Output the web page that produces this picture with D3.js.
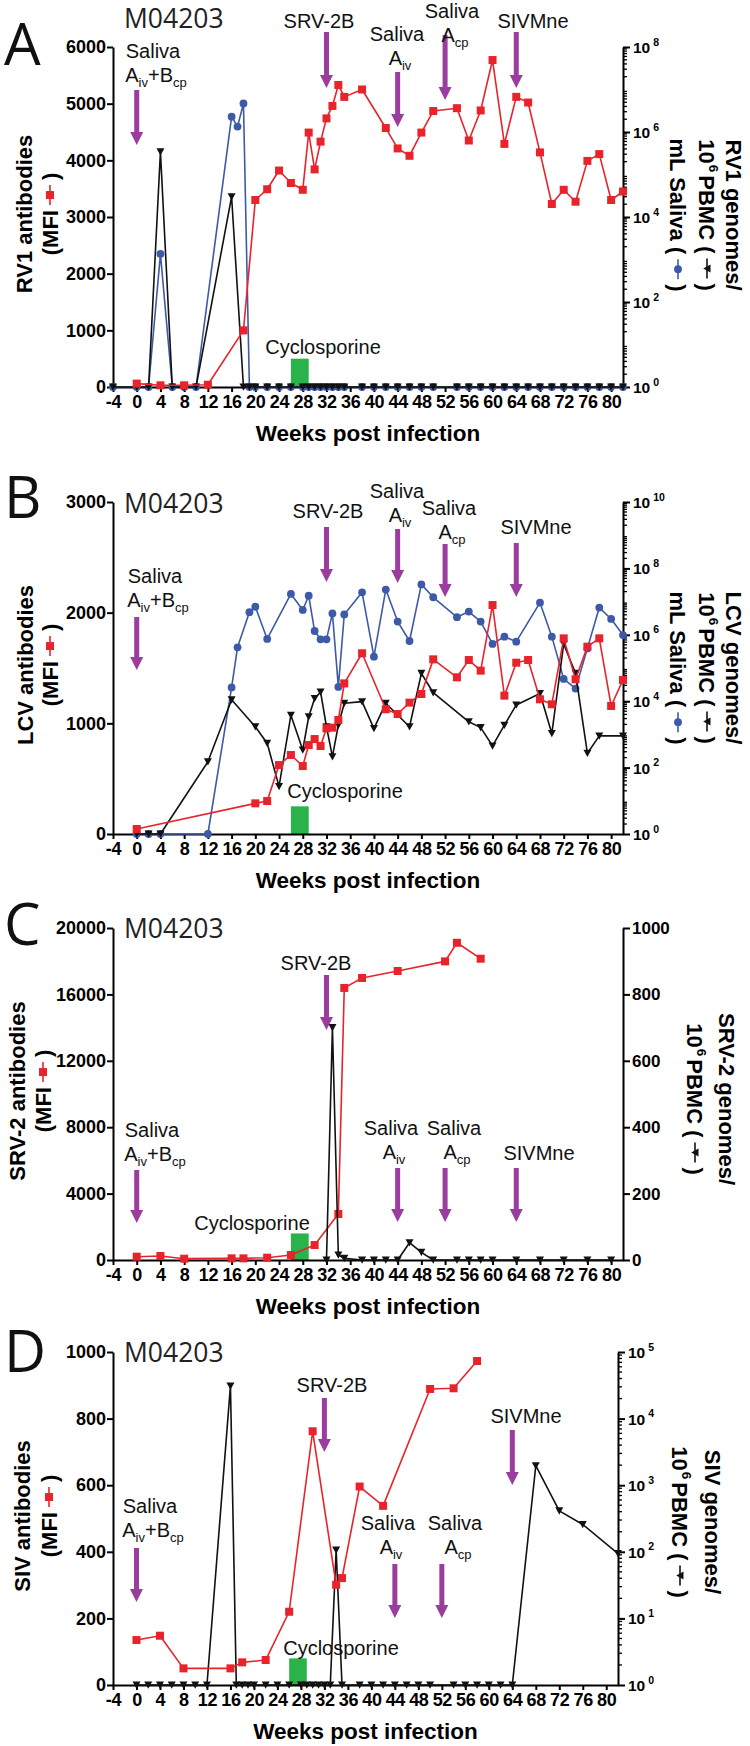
<!DOCTYPE html>
<html><head><meta charset="utf-8">
<script src="https://cdn.jsdelivr.net/npm/d3@7"></script>
<style>
body{margin:0;background:#fff;}
</style></head><body>
<script>
// ---------------- DATA ----------------
const weekDomain = [-4, 82];
const weekTicks = [-4,0,4,8,12,16,20,24,28,32,36,40,44,48,52,56,60,64,68,72,76,80];

const eventWeeks = [0, 32, 44, 52, 64];
const eventLabels = [["Saliva","A_iv+B_cp"], ["SRV-2B"], ["Saliva","A_iv"], ["Saliva","A_cp"], ["SIVMne"]];
const cyclosporineWeeks = [26, 29];
const cyclosporineLabel = "Cyclosporine";
const cycloBarMfi = [500, 250, 1600, 80];
const animalId = "M04203";

// Panel A – RV1
const rv1MfiTicks = [0,1000,2000,3000,4000,5000,6000];
const rv1GenomeExps = [0,2,4,6,8];
const rv1MfiWeeks = [0,4,8,12,18,20,22,24,26,28,29,30,31,32,33,34,35,38,42,44,46,48,50,54,56,58,60,62,64,66,68,70,72,74,76,78,80,82];
const rv1Mfi = [60,30,30,40,1000,3300,3490,3820,3600,3480,4490,3840,4330,4740,4960,5330,5120,5250,4570,4210,4080,4490,4870,4920,4350,4880,5770,4290,5120,5020,4140,3230,3480,3270,3990,4110,3300,3450];
const rv1PbmcWeeks = [-4,0,2,4,6,8,10,16,18,19,20,22,24,26,28,29,30,31,32,33,34,35,38,40,42,44,46,48,50,54,56,58,60,62,64,66,68,70,72,74,76,78,80,82];
const rv1Pbmc = [0,0,0,345000,0,0,0,30000,0,0,0,0,0,0,0,0,0,0,0,0,0,0,0,0,0,0,0,0,0,0,0,0,0,0,0,0,0,0,0,0,0,0,0,0];
const rv1SalivaWeeks = [-4,0,2,4,6,8,10,16,17,18,19,20,22,24,26,28,29,30,31,32,33,34,35,38,40,42,44,46,48,50,54,56,58,60,62,64,66,68,70,72,74,76,78,80,82];
const rv1Saliva = [0,0,0,1350,0,0,0,2300000,1340000,4700000,0,0,0,0,0,0,0,0,0,0,0,0,0,0,0,0,0,0,0,0,0,0,0,0,0,0,0,0,0,0,0,0,0,0,0];

// Panel B – LCV
const lcvMfiTicks = [0,1000,2000,3000];
const lcvGenomeExps = [0,2,4,6,8,10];
const lcvMfiWeeks = [0,20,22,24,26,28,29,30,31,32,33,34,35,38,42,44,46,48,50,54,56,58,60,62,64,66,68,70,72,74,76,78,80,82];
const lcvMfi = [45,277,298,623,714,614,804,858,795,955,961,1030,1361,1633,1127,1084,1187,1265,1578,1416,1572,1476,2069,1250,1548,1572,1217,1172,1768,1398,1693,1768,1157,1392];
const lcvPbmcWeeks = [0,2,4,12,16,20,22,24,26,28,29,30,31,32,33,34,35,38,40,42,46,48,50,56,58,60,62,64,68,70,72,74,76,78,82];
const lcvPbmc = [0,0,0,150,11000,1700,540,27,3800,340,3400,12000,19000,1700,213,1900,8700,9700,1500,8700,1700,69000,18000,2400,1600,450,1900,7700,17000,1070,530000,69000,270,900,900];
const lcvSalivaWeeks = [0,2,4,12,16,17,19,20,22,26,28,29,30,31,32,33,34,35,38,40,42,44,46,48,50,54,56,58,60,62,64,68,70,72,74,76,78,80,82];
const lcvSaliva = [0,0,0,0,26000,420000,4800000,7000000,750000,17000000,5600000,15000000,1300000,730000,730000,4400000,27000,4100000,19000000,220000,23000000,2500000,650000,33000000,13500000,3400000,5000000,2500000,530000,880000,620000,9300000,880000,47000,24000,390000,6600000,3000000,980000];

// Panel C – SRV-2
const srvMfiTicks = [0,4000,8000,12000,16000,20000];
const srvGenomeTicks = [0,200,400,600,800,1000];
const srvMfiWeeks = [0,4,8,16,18,22,26,30,34,35,38,44,52,54,58];
const srvMfi = [200,240,80,100,100,140,300,900,2770,16390,16990,17410,17990,19110,18150];
const srvPbmcWeeks = [32,33,34,35,38,40,42,44,46,48,50,54,56,58,60,64,68,72,76,80];
const srvPbmc = [0,700,15,5,0,0,0,0,52,23,0,0,0,0,0,0,0,0,0,0];

// Panel D – SIV
const sivMfiTicks = [0,200,400,600,800,1000];
const sivGenomeExps = [0,1,2,3,4,5];
const sivMfiWeeks = [0,4,8,16,18,22,26,30,34,35,38,42,50,54,58];
const sivMfi = [135,148,50,50,68,75,220,762,301,321,596,538,889,891,973];
const sivPbmcWeeks = [0,2,4,6,8,10,12,16,17,18,19,20,22,24,26,28,29,30,31,32,33,34,35,38,40,42,44,46,48,50,54,56,58,60,62,64,68,72,76,82];
const sivPbmc = [0,0,0,0,0,0,0,31000,0,0,0,0,0,0,0,0,0,0,0,0,0,106,0,0,0,0,0,0,0,0,0,0,0,0,0,0,1960,412,257,94];

// ---------------- STYLE / LAYOUT ----------------
const FONT = '"Liberation Sans", Arial, Helvetica, sans-serif';
const OPEN = '"Open Sans", "Noto Sans", sans-serif';
const RED = "#e8232b", BLUE = "#3d5aa8", BLACK = "#111111", PURPLE = "#9b3d9e", GREEN = "#2bb34b";

const panels = [
  {letter:"A", leftDomain:[0,6000], leftTicks:rv1MfiTicks, rightLog:true, rightDomain:[1,1e8], rightExps:rv1GenomeExps,
   leftTitle:"RV1 antibodies", rightTitle:"RV1 genomes/", saliva:true,
   series:[{w:rv1SalivaWeeks, v:rv1Saliva, axis:"R", kind:"circle", color:BLUE},
           {w:rv1PbmcWeeks, v:rv1Pbmc, axis:"R", kind:"tri", color:BLACK},
           {w:rv1MfiWeeks, v:rv1Mfi, axis:"L", kind:"square", color:RED}]},
  {letter:"B", leftDomain:[0,3000], leftTicks:lcvMfiTicks, rightLog:true, rightDomain:[1,1e10], rightExps:lcvGenomeExps,
   leftTitle:"LCV antibodies", rightTitle:"LCV genomes/", saliva:true,
   series:[{w:lcvSalivaWeeks, v:lcvSaliva, axis:"R", kind:"circle", color:BLUE},
           {w:lcvPbmcWeeks, v:lcvPbmc, axis:"R", kind:"tri", color:BLACK},
           {w:lcvMfiWeeks, v:lcvMfi, axis:"L", kind:"square", color:RED}]},
  {letter:"C", leftDomain:[0,20000], leftTicks:srvMfiTicks, rightLog:false, rightDomain:[0,1000], rightTicks:srvGenomeTicks,
   leftTitle:"SRV-2 antibodies", rightTitle:"SRV-2 genomes/", saliva:false,
   series:[{w:srvMfiWeeks, v:srvMfi, axis:"L", kind:"square", color:RED},
           {w:srvPbmcWeeks, v:srvPbmc, axis:"R", kind:"tri", color:BLACK}]},
  {letter:"D", leftDomain:[0,1000], leftTicks:sivMfiTicks, rightLog:true, rightDomain:[1,1e5], rightExps:sivGenomeExps,
   leftTitle:"SIV antibodies", rightTitle:"SIV genomes/", saliva:false,
   series:[{w:sivPbmcWeeks, v:sivPbmc, axis:"R", kind:"tri", color:BLACK},
           {w:sivMfiWeeks, v:sivMfi, axis:"L", kind:"square", color:RED}]}
];

const layouts = [
 {x0:113,x1:623,y0:47,y1:387,letterY:65,idY:28,leftX:[24,50],leftCY:214,rightX:[734,707,678],rightCY:215,
  ev:[[153,58,90,145],[319,28,32,88],[397,41,72,127],[452,18,35,100],[533,28,32,88]], cyc:[323,354]},
 {x0:113,x1:623,y0:502,y1:834,letterY:518,idY:513,leftX:[25,50],leftCY:665,rightX:[734,707,678],rightCY:668,
  ev:[[155,583,617,670],[328,518,527,582],[397,498,529,583],[449,515,544,597],[536,534,543,597]], cyc:[345,798]},
 {x0:113,x1:623,y0:928,y1:1260,letterY:945,idY:938,leftX:[17,43],leftCY:1091,rightX:[727,695],rightCY:1099,
  ev:[[152,1137,1170,1223],[316,970,975,1030],[391,1135,1168,1222],[454,1135,1168,1222],[539,1160,1168,1222]], cyc:[252,1230]},
 {x0:113,x1:618,y0:1352,y1:1685,letterY:1372,idY:1362,leftX:[22,49],leftCY:1516,rightX:[713,680],rightCY:1522,
  ev:[[150,1513,1548,1602],[332,1392,1398,1452],[388,1530,1564,1618],[455,1530,1564,1618],[526,1423,1430,1485]], cyc:[341,1655]}
];

// ---------------- DRAW ----------------
const svg = d3.select("body").append("svg").attr("width",750).attr("height",1746).style("display","block");
svg.append("rect").attr("width",750).attr("height",1746).attr("fill","#fff");

function drawMarker(g, kind, cx, cy, color) {
  if (kind === "square") {
    g.append("rect").attr("x",cx-4).attr("y",cy-4).attr("width",8).attr("height",8).attr("fill",color);
  } else if (kind === "circle") {
    g.append("circle").attr("cx",cx).attr("cy",cy).attr("r",3.9).attr("fill",color);
  } else {
    g.append("path").attr("d",`M${cx-4},${cy-3.5}L${cx+4},${cy-3.5}L${cx},${cy+3.8}Z`).attr("fill",color);
  }
}

function rotLabel(cx, cy, angle, parts, size) {
  const g = svg.append("g").attr("transform",`translate(${cx},${cy}) rotate(${angle})`);
  const inner = g.append("g");
  let x = 0;
  parts.forEach(p => {
    if (p.gap) { x += p.gap; return; }
    if (p.sym) {
      inner.append("line").attr("x1",x).attr("x2",x+20).attr("y1",0).attr("y2",0).attr("stroke",p.color).attr("stroke-width",1.6);
      drawMarker(inner, p.sym, x+10, 0, p.color);
      x += 20; return;
    }
    const fs = p.sup ? size*0.62 : size;
    const t = inner.append("text").attr("x",x).attr("y", p.sup ? -size*0.08 : size*0.35)
      .style("font-family",FONT).style("font-weight","bold").style("font-size",fs+"px").attr("fill","#000").text(p.t);
    x += t.node().getComputedTextLength();
  });
  inner.attr("transform",`translate(${-x/2},0)`);
}

function drawLabelLine(g, x, y, str, size) {
  const t = g.append("text").attr("x",x).attr("y",y).attr("text-anchor","middle")
    .style("font-family",FONT).style("font-size",size+"px").attr("fill","#111");
  const segs = str.split(/(_[a-z]+)/).filter(s => s.length);
  let sub = false;
  segs.forEach(s => {
    if (s[0] === "_") {
      t.append("tspan").attr("dy", sub ? 0 : 5).style("font-size","13px").text(s.slice(1));
      sub = true;
    } else {
      t.append("tspan").attr("dy", sub ? -5 : 0).text(s);
      sub = false;
    }
  });
}

panels.forEach((p, i) => {
  const L = layouts[i];
  const g = svg.append("g");
  const x = d3.scaleLinear().domain(weekDomain).range([L.x0, L.x1]);
  const yL = d3.scaleLinear().domain(p.leftDomain).range([L.y1, L.y0]);
  const yR = p.rightLog ? d3.scaleLog().domain(p.rightDomain).range([L.y1, L.y0])
                        : d3.scaleLinear().domain(p.rightDomain).range([L.y1, L.y0]);

  // cyclosporine bar
  g.append("rect").attr("x", x(cyclosporineWeeks[0])).attr("width", x(cyclosporineWeeks[1]) - x(cyclosporineWeeks[0]))
    .attr("y", yL(cycloBarMfi[i])).attr("height", L.y1 - yL(cycloBarMfi[i])).attr("fill", GREEN);

  const styleAxis = (a, fs) => {
    a.select(".domain").attr("stroke","#000").attr("stroke-width",2);
    a.selectAll(".tick line").attr("stroke","#000").attr("stroke-width",2);
    a.selectAll(".tick text").style("font-family",FONT).style("font-weight","bold").style("font-size",fs+"px").attr("fill","#000");
  };

  // x axis
  const ax = g.append("g").attr("transform",`translate(0,${L.y1})`)
    .call(d3.axisBottom(x).tickValues(weekTicks).tickSize(5).tickSizeOuter(0).tickPadding(3).tickFormat(d => String(d)));
  styleAxis(ax, 18);
  ax.selectAll(".tick text").attr("letter-spacing","-0.3px");

  // left axis
  const al = g.append("g").attr("transform",`translate(${L.x0},0)`)
    .call(d3.axisLeft(yL).tickValues(p.leftTicks).tickSize(6).tickSizeOuter(0).tickPadding(1).tickFormat(d => String(d)));
  styleAxis(al, 18);

  // right axis
  const ar = g.append("g").attr("transform",`translate(${L.x1},0)`);
  if (p.rightLog) {
    ar.call(d3.axisRight(yR).tickValues(p.rightExps.map(e => Math.pow(10,e))).tickSize(7).tickSizeOuter(0).tickFormat(""));
    styleAxis(ar, 14);
    const eMax = Math.round(Math.log10(p.rightDomain[1]));
    for (let e = 0; e < eMax; e++) {
      for (let m = 2; m <= 9; m++) {
        const yy = yR(m*Math.pow(10,e));
        ar.append("line").attr("x1",0).attr("x2",4).attr("y1",yy).attr("y2",yy).attr("stroke","#000").attr("stroke-width",1.3);
      }
    }
    p.rightExps.forEach(e => {
      const t = ar.append("text").attr("x",10).attr("y",yR(Math.pow(10,e))+6)
        .style("font-family",FONT).style("font-weight","bold").style("font-size","15.5px").attr("fill","#000");
      t.append("tspan").text("10");
      t.append("tspan").attr("dx",3).attr("dy",-7.5).style("font-size","10.5px").text(String(e));
    });
  } else {
    ar.call(d3.axisRight(yR).tickValues(p.rightTicks).tickSize(7).tickSizeOuter(0).tickPadding(2).tickFormat(d => String(d)));
    styleAxis(ar, 17);
  }

  // series
  p.series.forEach(s => {
    const ys = s.axis === "L" ? yL : yR;
    const pts = s.w.map((w, k) => [x(w), ys(p.rightLog && s.axis === "R" ? Math.max(s.v[k], 1) : s.v[k])]);
    g.append("path").attr("d", d3.line()(pts)).attr("fill","none").attr("stroke", s.color).attr("stroke-width",1.6).attr("stroke-linejoin","round");
    pts.forEach(pt => drawMarker(g, s.kind, pt[0], pt[1], s.color));
  });

  // annotation arrows and labels
  eventWeeks.forEach((w, k) => {
    const [tx, ty, top, tip] = L.ev[k];
    const cx = x(w);
    g.append("path").attr("d", `M${cx-2.5},${top}V${tip-13}H${cx-6.5}L${cx},${tip}L${cx+6.5},${tip-13}H${cx+2.5}V${top}Z`).attr("fill", PURPLE);
    eventLabels[k].forEach((line, j) => drawLabelLine(g, tx + (j>0 ? 3 : 0), ty + j*24, line, 20));
  });
  g.append("text").attr("x", L.cyc[0]).attr("y", L.cyc[1]).attr("text-anchor","middle")
    .style("font-family",FONT).style("font-size","20px").attr("fill","#111").text(cyclosporineLabel);

  // x title
  g.append("text").attr("x",(L.x0+L.x1)/2).attr("y",L.y1+54).attr("text-anchor","middle")
    .style("font-family",FONT).style("font-weight","bold").style("font-size","22.5px").attr("fill","#000").text("Weeks post infection");

  // panel letter and animal id
  g.append("text").attr("x",4).attr("y",L.letterY).style("font-family",OPEN).style("font-size","58px").attr("fill","#111").text(p.letter);
  g.append("text").attr("x",124).attr("y",L.idY).style("font-family",OPEN).style("font-size","26.5px").attr("fill","#222").text(animalId);

  // left titles
  rotLabel(L.leftX[0], L.leftCY, -90, [{t:p.leftTitle}], 22);
  rotLabel(L.leftX[1], L.leftCY, -90, [{t:"(MFI"},{gap:5},{sym:"square",color:RED},{gap:5},{t:")"}], 22);

  // right titles
  rotLabel(L.rightX[0], L.rightCY, 90, [{t:p.rightTitle}], 22);
  rotLabel(L.rightX[1], L.rightCY, 90, [{t:"10"},{gap:1},{t:"6",sup:true},{gap:3},{t:"PBMC ("},{gap:5},{sym:"tri",color:BLACK},{gap:5},{t:")"}], 22);
  if (p.saliva) {
    rotLabel(L.rightX[2], L.rightCY, 90, [{t:"mL Saliva ("},{gap:5},{sym:"circle",color:BLUE},{gap:5},{t:")"}], 22);
  }
});
</script>
</body></html>
